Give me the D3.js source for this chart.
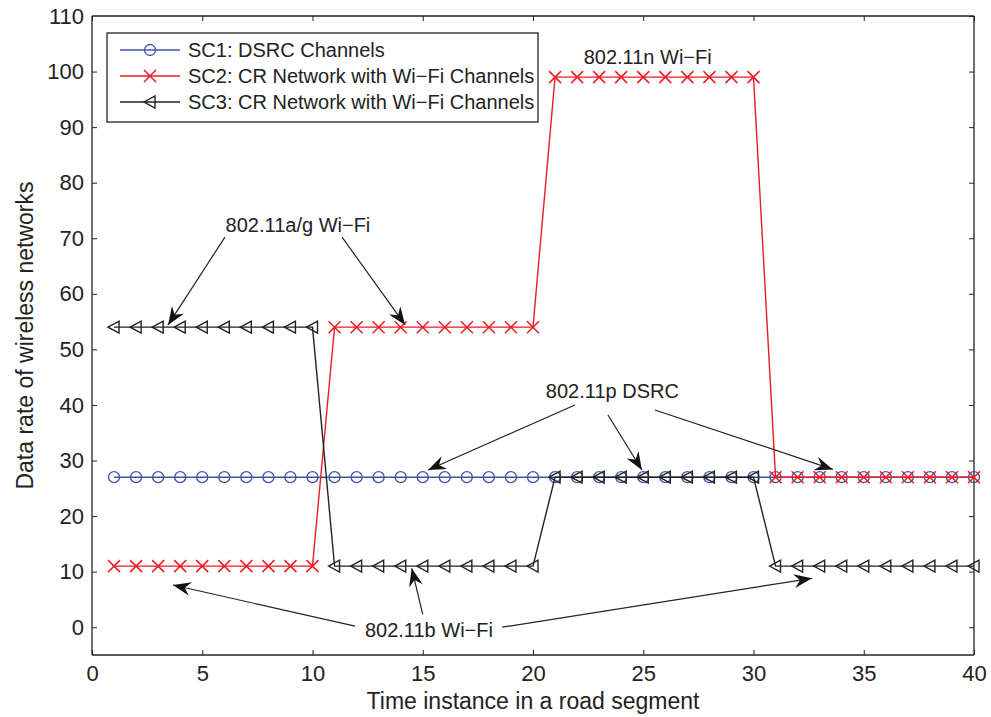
<!DOCTYPE html>
<html>
<head>
<meta charset="utf-8">
<script src="https://cdn.jsdelivr.net/npm/d3@7"></script>
<style>
  body { margin: 0; background: #fff; }
  text { font-family: "Liberation Sans", Arial, sans-serif; fill: #222; }
</style>
</head>
<body>
<div id="chart"></div>
<script>
// time instances 1..40
var times = d3.range(1, 41);

var sc1 = [27,27,27,27,27,27,27,27,27,27, 27,27,27,27,27,27,27,27,27,27,
           27,27,27,27,27,27,27,27,27,27, 27,27,27,27,27,27,27,27,27,27];
var sc2 = [11,11,11,11,11,11,11,11,11,11, 54,54,54,54,54,54,54,54,54,54,
           99,99,99,99,99,99,99,99,99,99, 27,27,27,27,27,27,27,27,27,27];
var sc3 = [54,54,54,54,54,54,54,54,54,54, 11,11,11,11,11,11,11,11,11,11,
           27,27,27,27,27,27,27,27,27,27, 11,11,11,11,11,11,11,11,11,11];

var seriesNames = ['SC1: DSRC Channels',
                   'SC2: CR Network with Wi\u2212Fi Channels',
                   'SC3: CR Network with Wi\u2212Fi Channels'];

var xTicks = [0, 5, 10, 15, 20, 25, 30, 35, 40];
var yTicks = [0, 10, 20, 30, 40, 50, 60, 70, 80, 90, 100, 110];

// annotation labels (data units) and arrows [from, to]
var labels = [
  { text: '802.11a/g Wi\u2212Fi', x: 9.34, y: 72.4 },
  { text: '802.11n Wi\u2212Fi', x: 25.2, y: 102.6 },
  { text: '802.11p DSRC', x: 23.6, y: 42.5 },
  { text: '802.11b Wi\u2212Fi', x: 15.28, y: -0.5 }
];
var arrows = [
  [6.03, 70.2, 3.45, 54.4], [11.34, 70.2, 14.2, 54.4],
  [21.9, 40.0, 15.24, 28.3], [23.4, 38.2, 24.94, 28.3], [25.53, 39.1, 33.6, 28.4],
  [11.93, 0.2, 3.67, 7.6], [15.0, 2.3, 14.5, 10.6], [18.6, 0.0, 32.65, 8.8]
];

var W = 991, H = 717;
var x = d3.scaleLinear().domain([0, 40]).range([92, 974]);
var y = d3.scaleLinear().domain([-5, 110]).range([655, 16]);

var svg = d3.select('#chart').append('svg')
  .attr('width', W).attr('height', H);

var defs = svg.append('defs');
defs.append('marker')
  .attr('id', 'head')
  .attr('viewBox', '-18 -7 20 14')
  .attr('refX', 0).attr('refY', 0)
  .attr('markerWidth', 20).attr('markerHeight', 14)
  .attr('markerUnits', 'userSpaceOnUse')
  .attr('orient', 'auto')
  .append('path')
  .attr('d', 'M0,0 L-18,-7 L-12,0 L-18,7 Z')
  .attr('fill', '#111');

// axes box
var axisB = svg.append('g').attr('transform', 'translate(0,655)')
  .call(d3.axisBottom(x).tickValues(xTicks).tickSize(-5).tickPadding(10));
var axisT = svg.append('g').attr('transform', 'translate(0,16)')
  .call(d3.axisTop(x).tickValues(xTicks).tickSize(-5).tickFormat(''));
var axisL = svg.append('g').attr('transform', 'translate(92,0)')
  .call(d3.axisLeft(y).tickValues(yTicks).tickSize(-5).tickPadding(8));
var axisR = svg.append('g').attr('transform', 'translate(974,0)')
  .call(d3.axisRight(y).tickValues(yTicks).tickSize(-5).tickFormat(''));

[axisB, axisT, axisL, axisR].forEach(function(a) {
  a.select('.domain').attr('stroke', '#222').attr('stroke-width', 1.3);
  a.selectAll('.tick line').attr('stroke', '#222');
  a.selectAll('.tick text').style('font-size', '22px')
    .style('font-family', '"Liberation Sans", Arial, sans-serif').attr('fill', '#222');
});
axisB.selectAll('.domain').attr('d', 'M92,0H974');
axisT.selectAll('.domain').attr('d', 'M92,0H974');
axisL.selectAll('.domain').attr('d', 'M0,16V655');
axisR.selectAll('.domain').attr('d', 'M0,16V655');
axisL.selectAll('.tick').filter(function(d) { return d === 110; }).select('line').remove();

svg.append('text')
  .attr('x', x(20)).attr('y', 709)
  .attr('text-anchor', 'middle').style('font-size', '23px')
  .text('Time instance in a road segment');
svg.append('text')
  .attr('transform', 'translate(33,' + y(52.5) + ') rotate(-90)')
  .attr('text-anchor', 'middle').style('font-size', '23px')
  .text('Data rate of wireless networks');

var line = d3.line().x(function(d) { return x(d[0]); }).y(function(d) { return y(d[1]); });

var colors = ['#3d55a8', '#ec1c24', '#222222'];
var allSeries = [sc1, sc2, sc3];

function drawMarker(g, kind, cx, cy, col) {
  if (kind === 0) {
    g.append('circle').attr('cx', cx).attr('cy', cy).attr('r', 5.5)
      .attr('fill', 'none').attr('stroke', col).attr('stroke-width', 1.3);
  } else if (kind === 1) {
    var s = 6;
    g.append('path')
      .attr('d', 'M' + (cx - s) + ',' + (cy - s) + 'L' + (cx + s) + ',' + (cy + s) +
                 'M' + (cx - s) + ',' + (cy + s) + 'L' + (cx + s) + ',' + (cy - s))
      .attr('stroke', col).attr('stroke-width', 1.5).attr('fill', 'none');
  } else {
    g.append('path')
      .attr('d', 'M' + (cx - 6) + ',' + cy + 'L' + (cx + 5) + ',' + (cy - 6) +
                 'L' + (cx + 5) + ',' + (cy + 6) + 'Z')
      .attr('stroke', col).attr('stroke-width', 1.4).attr('fill', 'none');
  }
}

allSeries.forEach(function(vals, k) {
  var pts = times.map(function(t, i) { return [t, vals[i]]; });
  var g = svg.append('g');
  g.append('path').datum(pts).attr('d', line)
    .attr('fill', 'none').attr('stroke', colors[k]).attr('stroke-width', 1.4);
  pts.forEach(function(p) { drawMarker(g, k, x(p[0]), y(p[1]), colors[k]); });
});

// annotations
var ann = svg.append('g');
arrows.forEach(function(a) {
  ann.append('line')
    .attr('x1', x(a[0])).attr('y1', y(a[1]))
    .attr('x2', x(a[2])).attr('y2', y(a[3]))
    .attr('stroke', '#222').attr('stroke-width', 1.2)
    .attr('marker-end', 'url(#head)');
});
labels.forEach(function(l) {
  ann.append('text')
    .attr('x', x(l.x)).attr('y', y(l.y))
    .attr('text-anchor', 'middle').attr('dy', '0.35em')
    .style('font-size', '20px').text(l.text);
});
// white box behind labels so arrow tails end at the text
ann.selectAll('text').each(function() {
  var bb = this.getBBox();
  ann.insert('rect', 'text').attr('x', bb.x - 1).attr('y', bb.y + 3)
    .attr('width', bb.width + 2).attr('height', bb.height - 6).attr('fill', '#fff');
});

// legend
var lg = svg.append('g');
lg.append('rect').attr('x', 107).attr('y', 33).attr('width', 431).attr('height', 89)
  .attr('fill', '#fff').attr('stroke', '#222').attr('stroke-width', 1.3);
seriesNames.forEach(function(name, k) {
  var ly = 50 + k * 26;
  lg.append('line').attr('x1', 120).attr('x2', 180).attr('y1', ly).attr('y2', ly)
    .attr('stroke', colors[k]).attr('stroke-width', 1.4);
  drawMarker(lg, k, 150, ly, colors[k]);
  lg.append('text').attr('x', 188).attr('y', ly).attr('dy', '0.35em')
    .style('font-size', '20px').text(name);
});
</script>
</body>
</html>
